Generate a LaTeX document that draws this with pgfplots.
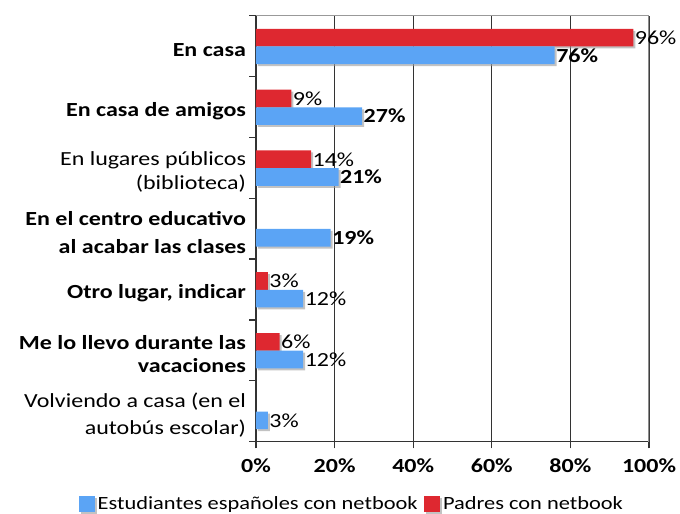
\documentclass[border=0pt]{standalone}
\usepackage{fontspec}
\setmainfont{Carlito}[FakeStretch=1.2]
\usepackage{pgfplots}
\usepackage{pgfplotstable}
\pgfplotsset{compat=1.18}
\usetikzlibrary{shadows}
\definecolor{cblue}{RGB}{91,164,245}
\definecolor{cred}{RGB}{222,40,48}

\pgfplotstableread{
y x lab
6 76 {\textbf{76\%}}
5 27 {\textbf{27\%}}
4 21 {\textbf{21\%}}
3 19 {\textbf{19\%}}
2 12 {12\%}
1 12 {12\%}
0 3 {3\%}
}\bluedata

\pgfplotstableread{
y x lab
6 96 {96\%}
5 9 {9\%}
4 14 {14\%}
2 3 {3\%}
1 6 {6\%}
}\reddata

\begin{document}
\begin{tikzpicture}
\useasboundingbox (-192pt,-54pt) rectangle (318pt,331.25pt);
\begin{axis}[
  at={(0,0)}, anchor=south west,
  scale only axis, width=294.75pt, height=319.5pt,
  xbar, xmin=0, xmax=100, ymin=-0.5, ymax=6.5,
  bar width=0.29,
  axis lines=left, axis line style={-, black!80, line width=0.9pt},
  tick align=outside, major tick length=5pt,
  tick style={black!80, line width=0.9pt},
  xtick={0,20,...,100},
  xticklabel={\textbf{\pgfmathprintnumber{\tick}\%}},
  xticklabel style={font=\fontsize{15}{18}\selectfont, yshift=-4pt},
  xmajorgrids, grid style={black!80, line width=0.9pt},
  ytick={-0.5,0.5,...,6.5},
  yticklabels={{},{},{},{},{},{},{},{}},
  extra y ticks={0,1,2,3,4,5,6},
  extra y tick labels={
    {Volviendo a casa (en el\\[3pt]autobús escolar)},
    {\textbf{Me lo llevo durante las}\\\textbf{vacaciones}},
    {\textbf{Otro lugar, indicar}},
    {\textbf{En el centro educativo}\\[4pt]\textbf{al acabar las clases}},
    {En lugares públicos\\(biblioteca)},
    {\textbf{En casa de amigos}},
    {\textbf{En casa}}},
  extra y tick style={major tick length=0pt, grid=none},
  yticklabel style={align=right, font=\fontsize{15}{17.5}\selectfont, xshift=-4pt, yshift=-3pt},
  /pgf/number format/assume math mode=true,
  point meta=explicit symbolic,
  nodes near coords,
  nodes near coords style={font=\fontsize{15}{17}\selectfont, anchor=west, xshift=-1pt, inner sep=2pt},
  reverse legend,
  legend columns=2,
  legend style={at={(0.245,-0.146)}, anchor=center, draw=none, fill=none,
    font=\fontsize{14}{17}\selectfont,
    /tikz/every even column/.append style={column sep=3pt},
    inner sep=0pt},
]
\addplot[fill=cred, draw=none, bar shift=0.14,
  drop shadow={shadow xshift=1.5pt, shadow yshift=-1.5pt, fill=black!40, opacity=0.6},
  legend image code/.code={\fill[cred] (0pt,-6pt) rectangle (12pt,6pt);}]
  table[x=x, y=y, meta=lab] {\reddata};
\addlegendentry{Padres con netbook}
\addplot[fill=cblue, draw=none, bar shift=-0.15,
  drop shadow={shadow xshift=1.5pt, shadow yshift=-1.5pt, fill=black!40, opacity=0.6},
  legend image code/.code={\fill[cblue] (0pt,-6pt) rectangle (12pt,6pt);}]
  table[x=x, y=y, meta=lab] {\bluedata};
\addlegendentry{Estudiantes españoles con netbook}
\draw[black!40, line width=0.9pt] (rel axis cs:0,1) -- (rel axis cs:1,1);
\draw[black!45, line width=0.9pt] (rel axis cs:1,0) -- (rel axis cs:1,1);
\end{axis}
\end{tikzpicture}
\end{document}
